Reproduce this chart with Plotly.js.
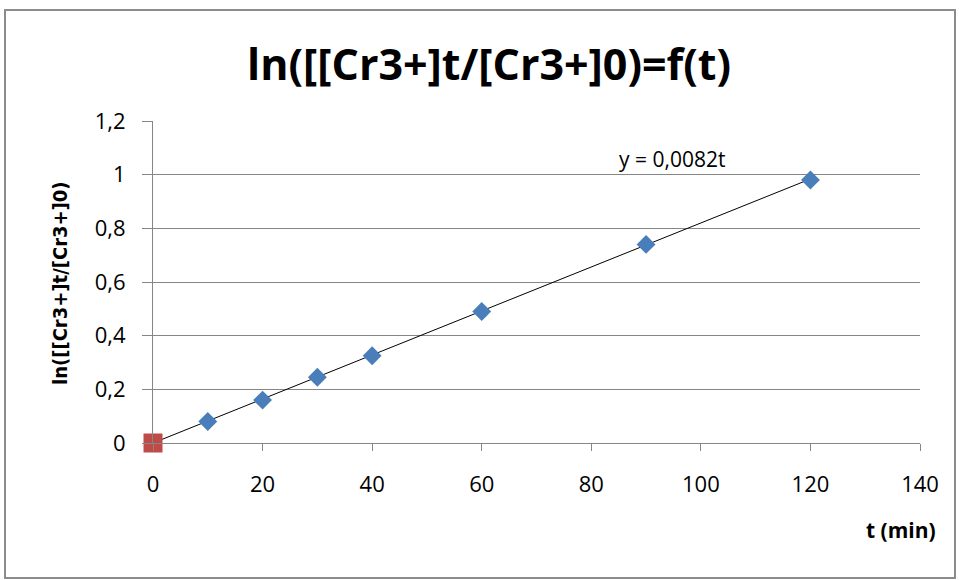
<!DOCTYPE html>
<html>
<head>
<meta charset="utf-8">
<script src="https://cdn.plot.ly/plotly-3.0.1.min.js"></script>
<style>
html,body{margin:0;padding:0;background:#fff;}
#wrap{position:relative;width:959px;height:580px;}
#chart{width:959px;height:580px;}
#frame{position:absolute;left:4px;top:9px;width:948px;height:566px;border:2px solid #8c8c8c;pointer-events:none;}
</style>
</head>
<body>
<div id="wrap"><div id="chart"></div><div id="frame"></div></div>
<script>
var tMin = [10, 20, 30, 40, 60, 90, 120];
var lnRatio = [0.08, 0.16, 0.245, 0.325, 0.49, 0.74, 0.98];
var originT = [0];
var originY = [0];
var slope = 0.0082;
var trendT = [0, 120];
var trendY = trendT.map(function(t){ return slope * t; });

var fam = "'Open Sans', 'Noto Sans', sans-serif";
var condFam = "'DejaVu Sans Condensed', 'Open Sans', sans-serif";
var tickFont = {family: fam, size: 22, color: '#000'};

var traces = [
  {x: trendT, y: trendY, type: 'scatter', mode: 'lines', line: {color: '#000', width: 1}, hoverinfo: 'skip', showlegend: false},
  {x: tMin, y: lnRatio, type: 'scatter', mode: 'markers', marker: {symbol: 'diamond', size: 14.5, color: '#4a7ebb'}, showlegend: false},
  {x: originT, y: originY, type: 'scatter', mode: 'markers', marker: {symbol: 'square', size: 19, color: '#be4b48'}, showlegend: false, cliponaxis: false}
];

var pw = 959 - 153 - 39, ph = 580 - 121 - 137;
function px(x){ return (x - 153) / pw; }
function py(y){ return (580 - 137 - y) / ph; }

var layout = {
  width: 959, height: 580,
  margin: {l: 153, r: 39, t: 121, b: 137},
  separators: ', ',
  paper_bgcolor: '#fff', plot_bgcolor: '#fff',
  showlegend: false,
  title: {text: '<b>ln([[Cr3+]t/[Cr3+]0)=f(t)</b>', x: 0.51, xanchor: 'center', y: 0.888, yanchor: 'middle',
          font: {family: fam, size: 43, color: '#000'}},
  xaxis: {range: [0, 140], dtick: 20, tick0: 0, showgrid: false, zeroline: false,
          showline: true, linecolor: '#868686', linewidth: 1,
          ticks: 'outside', ticklen: 7, tickcolor: '#868686', tickfont: tickFont,
          ticklabelstandoff: 15, title: {text: ''}},
  yaxis: {range: [0, 1.2], dtick: 0.2, tick0: 0, showgrid: true, gridcolor: '#868686', gridwidth: 1,
          zeroline: false, showline: true, linecolor: '#868686', linewidth: 1,
          ticks: 'outside', ticklen: 10, tickcolor: '#868686', tickfont: tickFont,
          ticklabelstandoff: 12, title: {text: ''}},
  annotations: [
    {text: 'y = 0,0082t', x: 94.7, y: 1.057, xref: 'x', yref: 'y', showarrow: false,
     font: {family: fam, size: 21, color: '#000'}},
    {text: '<b>t (min)</b>', x: px(938), y: py(530), xref: 'paper', yref: 'paper', xanchor: 'right', yanchor: 'middle', showarrow: false,
     font: {family: fam, size: 21, color: '#000'}},
    {text: '<b>ln([[Cr3+]t/[Cr3+]0)</b>', textangle: -90, x: px(60), y: py(283), xref: 'paper', yref: 'paper', xanchor: 'center', yanchor: 'middle', showarrow: false,
     font: {family: condFam, size: 20, color: '#000'}}
  ]
};

Plotly.newPlot('chart', traces, layout, {displayModeBar: false, staticPlot: true});
</script>
</body>
</html>
